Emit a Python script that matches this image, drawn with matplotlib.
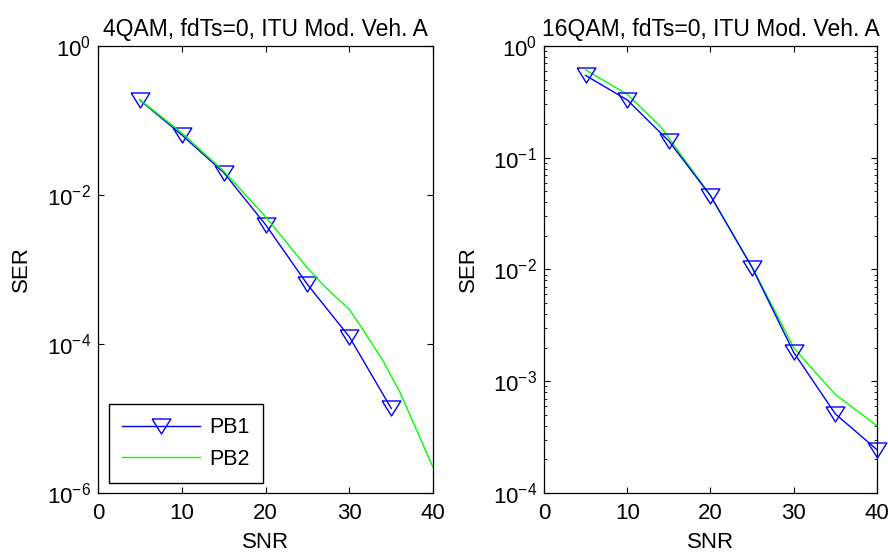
import math
import matplotlib
matplotlib.use('Agg')
import matplotlib.pyplot as plt
from matplotlib.ticker import FixedLocator, LogLocator, NullFormatter, NullLocator

plt.rcParams['font.family'] = 'Liberation Sans'
plt.rcParams['mathtext.fontset'] = 'custom'
plt.rcParams['mathtext.rm'] = 'Liberation Sans'
plt.rcParams['mathtext.it'] = 'Liberation Sans'

# 4QAM
snr_pb1_4 = [5, 10, 15, 20, 25, 30, 35]
ser_pb1_4 = [0.188, 0.064, 0.020, 0.0040, 6.3e-4, 1.25e-4, 1.37e-5]
snr_pb2_4 = [5, 10, 15, 20, 25, 27, 30, 31, 34, 36, 40]
ser_pb2_4 = [0.19, 0.068, 0.021, 0.0051, 1.05e-3, 6.0e-4, 2.9e-4, 2.0e-4, 6.0e-5, 2.3e-5, 2.2e-6]

# 16QAM
snr_pb1_16 = [5, 10, 15, 20, 25, 30, 35, 40]
ser_pb1_16 = [0.545, 0.329, 0.141, 0.0457, 0.0104, 1.81e-3, 5.1e-4, 2.44e-4]
snr_pb2_16 = [5, 10, 14, 20, 25, 30, 32, 35, 40]
ser_pb2_16 = [0.61, 0.37, 0.19, 0.046, 0.0105, 2.0e-3, 1.35e-3, 7.6e-4, 4.0e-4]

titles = ['4QAM, fdTs=0, ITU Mod. Veh. A', '16QAM, fdTs=0, ITU Mod. Veh. A']
xticks = [0, 10, 20, 30, 40]
yticks_4 = [1e-6, 1e-4, 1e-2, 1e0]
yticks_16 = [1e-4, 1e-3, 1e-2, 1e-1, 1e0]

tri = [(-1, 0.8), (1, 0.8), (0, -0.8), (-1, 0.8)]
fs = 16

fig = plt.figure(figsize=(8.88, 5.56), dpi=100)
ax1 = fig.add_axes([0.1104, 0.1133, 0.3773, 0.8040])
ax2 = fig.add_axes([0.6126, 0.1133, 0.3750, 0.8040])


def style(ax, title, yticks, ylim):
    ax.set_yscale('log')
    ax.set_xlim(0, 40)
    ax.set_ylim(*ylim)
    ax.xaxis.set_major_locator(FixedLocator(xticks))
    ax.yaxis.set_major_locator(FixedLocator(yticks))
    ax.set_yticklabels(['$10^{%d}$' % round(math.log10(v)) for v in yticks])
    ax.tick_params(which='both', direction='in', top=True, right=True, labelsize=fs, colors='black')
    ax.tick_params(which='major', length=4, width=0.8)
    ax.tick_params(axis='x', which='major', pad=7)
    ax.tick_params(axis='y', which='major', pad=5)
    ax.tick_params(which='minor', length=2.2, width=0.6)
    for s in ax.spines.values():
        s.set_linewidth(0.9)
    ax.set_title(title, fontsize=16.5, pad=7)
    ax.set_xlabel('SNR', fontsize=fs, labelpad=6)
    ax.set_ylabel('SER', fontsize=fs)
    ax.yaxis.set_label_coords(-0.196, 0.5)


ax1.plot(snr_pb1_4, ser_pb1_4, color='#0000ff', lw=1.0, marker=tri, ms=13.5,
         mfc='none', mec='#0000ff', mew=1.0, label='PB1', clip_on=False)
ax1.plot(snr_pb2_4, ser_pb2_4, color='#00ff00', lw=1.0, label='PB2')
style(ax1, titles[0], yticks_4, (1e-6, 1e0))
ax1.yaxis.set_minor_locator(NullLocator())

ax2.plot(snr_pb1_16, ser_pb1_16, color='#0000ff', lw=1.0, marker=tri, ms=13.5,
         mfc='none', mec='#0000ff', mew=1.0, label='PB1', clip_on=False, zorder=3)
ax2.plot(snr_pb2_16, ser_pb2_16, color='#00ff00', lw=1.0, label='PB2')
style(ax2, titles[1], yticks_16, (1e-4, 1e0))
ax2.yaxis.set_minor_locator(LogLocator(base=10, subs=range(2, 10)))
ax2.yaxis.set_minor_formatter(NullFormatter())

leg = ax1.legend(loc='lower left', bbox_to_anchor=(0.034, 0.023), fontsize=15.5,
                 fancybox=False, framealpha=1, edgecolor='black', borderaxespad=0,
                 handlelength=3.6, handletextpad=0.45, borderpad=0.6, labelspacing=0.5)
leg.get_frame().set_linewidth(1.0)

fig.savefig('out.png', dpi=100)
